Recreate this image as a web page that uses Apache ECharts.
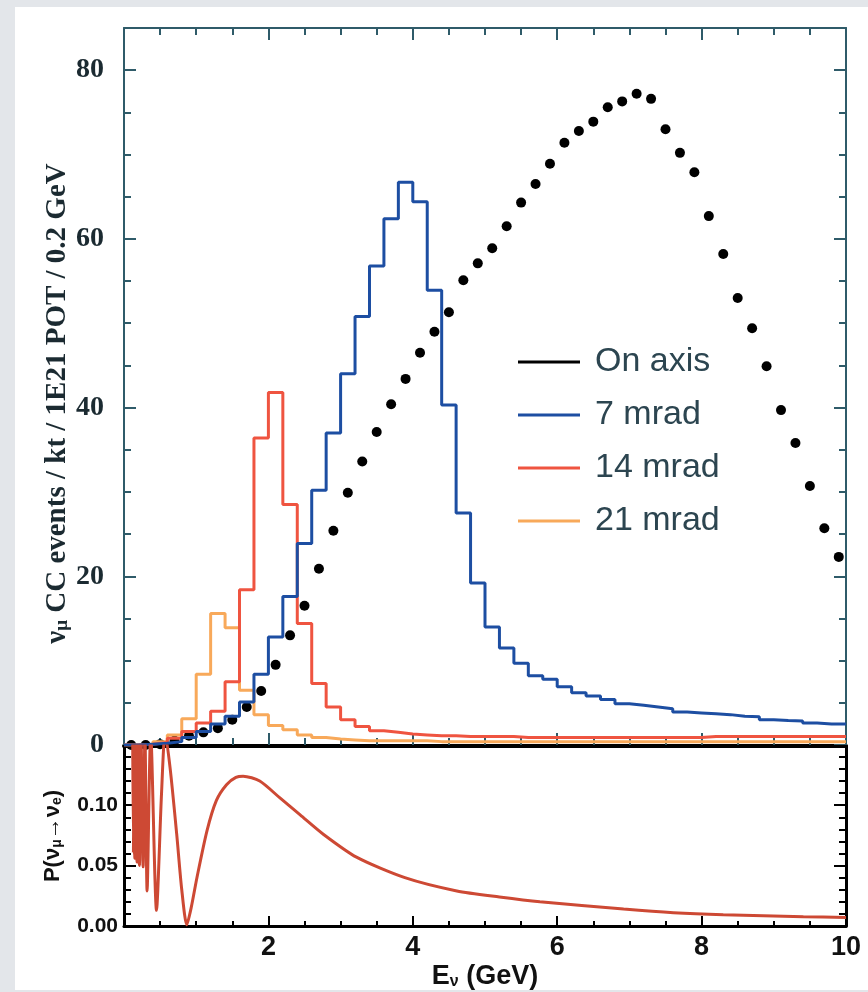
<!DOCTYPE html>
<html>
<head>
<meta charset="utf-8">
<title>numu CC spectra</title>
<script src="https://cdn.jsdelivr.net/npm/echarts@6/dist/echarts.min.js"></script>
<style>
  html, body { margin: 0; padding: 0; background: #e3e6ea; }
  .sheet { position: absolute; left: 15px; top: 7px; width: 853px; height: 983px; background: #fff; }
  #chart { position: absolute; left: 0; top: 0; width: 868px; height: 992px; }
</style>
</head>
<body>
<div class="sheet"></div>
<div id="chart"></div>
<script>
// bin centres (0.2 GeV bins)
var binCenters = [0.1, 0.3, 0.5, 0.7, 0.9, 1.1, 1.3, 1.5, 1.7, 1.9,
  2.1, 2.3, 2.5, 2.7, 2.9, 3.1, 3.3, 3.5, 3.7, 3.9,
  4.1, 4.3, 4.5, 4.7, 4.9, 5.1, 5.3, 5.5, 5.7, 5.9,
  6.1, 6.3, 6.5, 6.7, 6.9, 7.1, 7.3, 7.5, 7.7, 7.9,
  8.1, 8.3, 8.5, 8.7, 8.9, 9.1, 9.3, 9.5, 9.7, 9.9];

var onAxis = [0.0, 0.0, 0.1, 0.5, 1.1, 1.5, 2.0, 3.0, 4.5, 6.4,
  9.5, 13.0, 16.5, 20.9, 25.4, 29.9, 33.6, 37.1, 40.4, 43.4,
  46.5, 49.0, 51.3, 55.1, 57.1, 58.9, 61.5, 64.3, 66.5, 68.9,
  71.4, 72.8, 73.9, 75.6, 76.3, 77.2, 76.6, 73.0, 70.2, 67.9,
  62.7, 58.2, 53.0, 49.4, 44.9, 39.7, 35.8, 30.7, 25.7, 22.3];

var mrad7 = [0, 0.1, 0.2, 0.4, 0.9, 1.6, 2.5, 3.4, 5.1, 8.4,
  12.8, 17.6, 23.9, 30.2, 37.0, 44.0, 50.8, 56.8, 62.4, 66.7,
  64.4, 53.9, 40.3, 27.5, 19.2, 14.0, 11.5, 9.7, 8.2, 7.8,
  6.9, 6.2, 5.8, 5.4, 4.9, 4.7, 4.5, 4.3, 3.9, 3.8,
  3.7, 3.6, 3.4, 3.35, 3.0, 2.9, 2.85, 2.6, 2.5, 2.5];

var mrad14 = [0, 0.1, 0.3, 0.8, 1.6, 2.6, 4.0, 7.5, 18.4, 36.4,
  41.8, 28.5, 14.4, 7.3, 4.5, 3.0, 2.2, 1.7, 1.5, 1.3,
  1.2, 1.1, 1.1, 1.0, 1.0, 1.0, 1.0, 0.9, 0.9, 0.9,
  0.9, 0.9, 0.9, 0.9, 0.9, 0.9, 0.9, 0.9, 0.9, 0.9,
  1.0, 1.0, 1.0, 1.0, 1.0, 1.0, 1.0, 1.0, 1.0, 1.0];

var mrad21 = [0, 0.1, 0.4, 1.2, 3.1, 8.4, 15.6, 13.9, 6.5, 3.6,
  2.3, 1.8, 1.2, 0.9, 0.7, 0.6, 0.5, 0.5, 0.5, 0.5,
  0.5, 0.4, 0.4, 0.4, 0.4, 0.4, 0.4, 0.4, 0.4, 0.4,
  0.4, 0.4, 0.4, 0.4, 0.4, 0.4, 0.4, 0.4, 0.4, 0.4,
  0.4, 0.4, 0.4, 0.4, 0.4, 0.4, 0.4, 0.4, 0.4, 0.4];

// oscillation probability
var oscE = [0.12, 0.13, 0.14, 0.15, 0.165, 0.18, 0.195, 0.215, 0.235, 0.265,
  0.29, 0.32, 0.37, 0.45, 0.52, 0.57, 0.64, 0.73, 0.8, 0.87,
  0.93, 1.01, 1.15, 1.28, 1.42, 1.55, 1.65, 1.88, 2.16, 2.44,
  2.76, 3.22, 3.89, 4.61, 5.2, 5.76, 6.92, 7.61, 8.3, 9.41, 10];
var oscP = [0.16, 0.06, 0.16, 0.056, 0.16, 0.053, 0.16, 0.05, 0.16, 0.049,
  0.16, 0.029, 0.16, 0.013, 0.11, 0.16, 0.13, 0.076, 0.03, 0.001,
  0.015, 0.040, 0.079, 0.104, 0.117, 0.123, 0.124, 0.120, 0.106, 0.092,
  0.076, 0.057, 0.040, 0.029, 0.024, 0.020, 0.014, 0.011, 0.0093, 0.0077, 0.007];

var yTopLabels = [0, 20, 40, 60, 80];
var yBotLabels = [0, 0.05, 0.10];
var xLabels = [2, 4, 6, 8, 10];

var frameTop = '#2f5b69';
var sans = 'Liberation Sans';
var serif = 'Liberation Serif';

// histogram as left edges, closed at 10 GeV
function stepData(vals) {
  var pts = vals.map(function (v, i) {
    return [Math.round((binCenters[i] - 0.1) * 100) / 100, v];
  });
  pts.push([10, vals[vals.length - 1]]);
  return pts;
}

function near(v, list) {
  for (var i = 0; i < list.length; i++) {
    if (Math.abs(v - list[i]) < 1e-6) return true;
  }
  return false;
}

// plain tick-only axis (no onZero, so top/right really sit on top/right)
function tickAxis(grid, pos, min, max, interval, len, color) {
  return {
    type: 'value', gridIndex: grid, position: pos, min: min, max: max, interval: interval,
    axisLine: { show: false, onZero: false },
    axisTick: { show: len > 0, inside: true, length: len, lineStyle: { color: color, width: 2 } },
    axisLabel: { show: false },
    splitLine: { show: false }
  };
}

function frameLine(color, width) {
  return { show: true, onZero: false, lineStyle: { color: color, width: width } };
}

var myChart = echarts.init(document.getElementById('chart'));

var xAxes = [
  tickAxis(0, 'bottom', 0, 10, 0.5, 7, frameTop),
  tickAxis(0, 'bottom', 0, 10, 2, 12, frameTop),
  tickAxis(0, 'top', 0, 10, 0.5, 7, frameTop),
  tickAxis(0, 'top', 0, 10, 2, 12, frameTop),
  tickAxis(1, 'bottom', 0, 10, 2, 10, '#000'),
  tickAxis(1, 'bottom', 0, 10, 0.5, 5, '#000'),
  tickAxis(1, 'top', 0, 10, 2, 0, '#000')
];
xAxes[2].axisLine = frameLine(frameTop, 2);
xAxes[4].axisLine = frameLine('#000', 3);
xAxes[4].axisLabel = {
  show: true, margin: 8, fontFamily: sans, fontWeight: 'bold', fontSize: 27, color: '#111',
  formatter: function (v) { return near(v, xLabels) ? String(v) : ''; }
};
xAxes[4].name = '{a|E}{s|ν}{a| (GeV)}';
xAxes[4].nameLocation = 'middle';
xAxes[4].nameGap = 30;
xAxes[4].nameMoveOverlap = false;
xAxes[4].nameTextStyle = {
  rich: {
    a: { fontFamily: sans, fontWeight: 'bold', fontSize: 27, lineHeight: 34, color: '#111', verticalAlign: 'bottom' },
    s: { fontFamily: sans, fontWeight: 'bold', fontSize: 16, lineHeight: 16, color: '#111', verticalAlign: 'bottom' }
  }
};
xAxes[6].axisLine = frameLine('#000', 4);

var yAxes = [
  tickAxis(0, 'left', 0, 85, 5, 7, frameTop),
  tickAxis(0, 'left', 0, 85, 20, 12, frameTop),
  tickAxis(0, 'right', 0, 85, 5, 7, frameTop),
  tickAxis(0, 'right', 0, 85, 20, 12, frameTop),
  tickAxis(1, 'left', 0, 0.149, 0.05, 12, '#000'),
  tickAxis(1, 'left', 0, 0.149, 0.01, 7, '#000'),
  tickAxis(1, 'right', 0, 0.149, 0.05, 12, '#000'),
  tickAxis(1, 'right', 0, 0.149, 0.01, 7, '#000')
];
yAxes[0].axisLine = frameLine(frameTop, 2);
yAxes[0].axisLabel = {
  show: true, margin: 20, fontFamily: serif, fontWeight: 'bold', fontSize: 28, color: '#1b2a31',
  formatter: function (v) { return near(v, yTopLabels) ? String(v) : ''; }
};
yAxes[0].name = '{a|ν}{s|μ}{a| CC events / kt / 1E21 POT / 0.2 GeV}';
yAxes[0].nameLocation = 'middle';
yAxes[0].nameGap = 52;
yAxes[0].nameMoveOverlap = false;
yAxes[0].nameTextStyle = {
  padding: [0, 34, 0, 0], // nudges the rotated title down a little
  rich: {
    a: { fontFamily: serif, fontWeight: 'bold', fontSize: 29, lineHeight: 34, color: '#1b2a31', verticalAlign: 'bottom' },
    s: { fontFamily: serif, fontWeight: 'bold', fontSize: 19, lineHeight: 19, color: '#1b2a31', verticalAlign: 'bottom' }
  }
};
yAxes[2].axisLine = frameLine(frameTop, 2);
yAxes[4].axisLine = frameLine('#000', 3);
yAxes[4].axisLabel = {
  show: true, margin: 6, fontFamily: sans, fontWeight: 'bold', fontSize: 21, color: '#111',
  formatter: function (v) { return near(v, yBotLabels) ? v.toFixed(2) : ''; }
};
yAxes[4].name = '{a|P(ν}{s|μ}{a|→ν}{s|e}{a|)}';
yAxes[4].nameLocation = 'middle';
yAxes[4].nameGap = 60;
yAxes[4].nameMoveOverlap = false;
yAxes[4].nameTextStyle = {
  rich: {
    a: { fontFamily: sans, fontWeight: 'bold', fontSize: 22, lineHeight: 28, color: '#111', verticalAlign: 'bottom' },
    s: { fontFamily: sans, fontWeight: 'bold', fontSize: 14, lineHeight: 14, color: '#111', verticalAlign: 'bottom' }
  }
};
yAxes[6].axisLine = frameLine('#000', 3);

myChart.setOption({
  animation: false,
  grid: [
    { left: 124, top: 28, width: 722, height: 717, outerBoundsMode: 'none' },
    { left: 124, top: 746, width: 722, height: 180, outerBoundsMode: 'none' }
  ],
  legend: {
    data: ['On axis', '7 mrad', '14 mrad', '21 mrad'],
    orient: 'vertical',
    left: 518,
    top: 345,
    padding: 0,
    icon: 'rect',
    itemWidth: 62,
    itemHeight: 3,
    itemGap: 19,
    selectedMode: false,
    textStyle: { fontFamily: sans, fontSize: 34, lineHeight: 34, color: '#2c4550', padding: [0, 0, 0, 10] }
  },
  xAxis: xAxes,
  yAxis: yAxes,
  series: [
    {
      name: '21 mrad', type: 'line', step: 'end', xAxisIndex: 0, yAxisIndex: 0,
      data: stepData(mrad21), symbol: 'none', color: '#f8a95a',
      lineStyle: { width: 3, color: '#f8a95a' }
    },
    {
      name: '14 mrad', type: 'line', step: 'end', xAxisIndex: 0, yAxisIndex: 0,
      data: stepData(mrad14), symbol: 'none', color: '#ef5440',
      lineStyle: { width: 3, color: '#ef5440' }
    },
    {
      name: '7 mrad', type: 'line', step: 'end', xAxisIndex: 0, yAxisIndex: 0,
      data: stepData(mrad7), symbol: 'none', color: '#1d4ea2',
      lineStyle: { width: 3, color: '#1d4ea2' }
    },
    {
      name: 'On axis', type: 'scatter', xAxisIndex: 0, yAxisIndex: 0,
      data: binCenters.map(function (e, i) { return [e, onAxis[i]]; }),
      symbol: 'circle', symbolSize: 10, color: '#000', itemStyle: { color: '#000', opacity: 1 }
    },
    {
      name: 'P', type: 'line', xAxisIndex: 4, yAxisIndex: 4,
      data: oscE.map(function (e, i) { return [e, oscP[i]]; }),
      symbol: 'none', smooth: 0.25, clip: true,
      lineStyle: { width: 3, color: '#cd4934' }
    }
  ]
});
</script>
</body>
</html>
